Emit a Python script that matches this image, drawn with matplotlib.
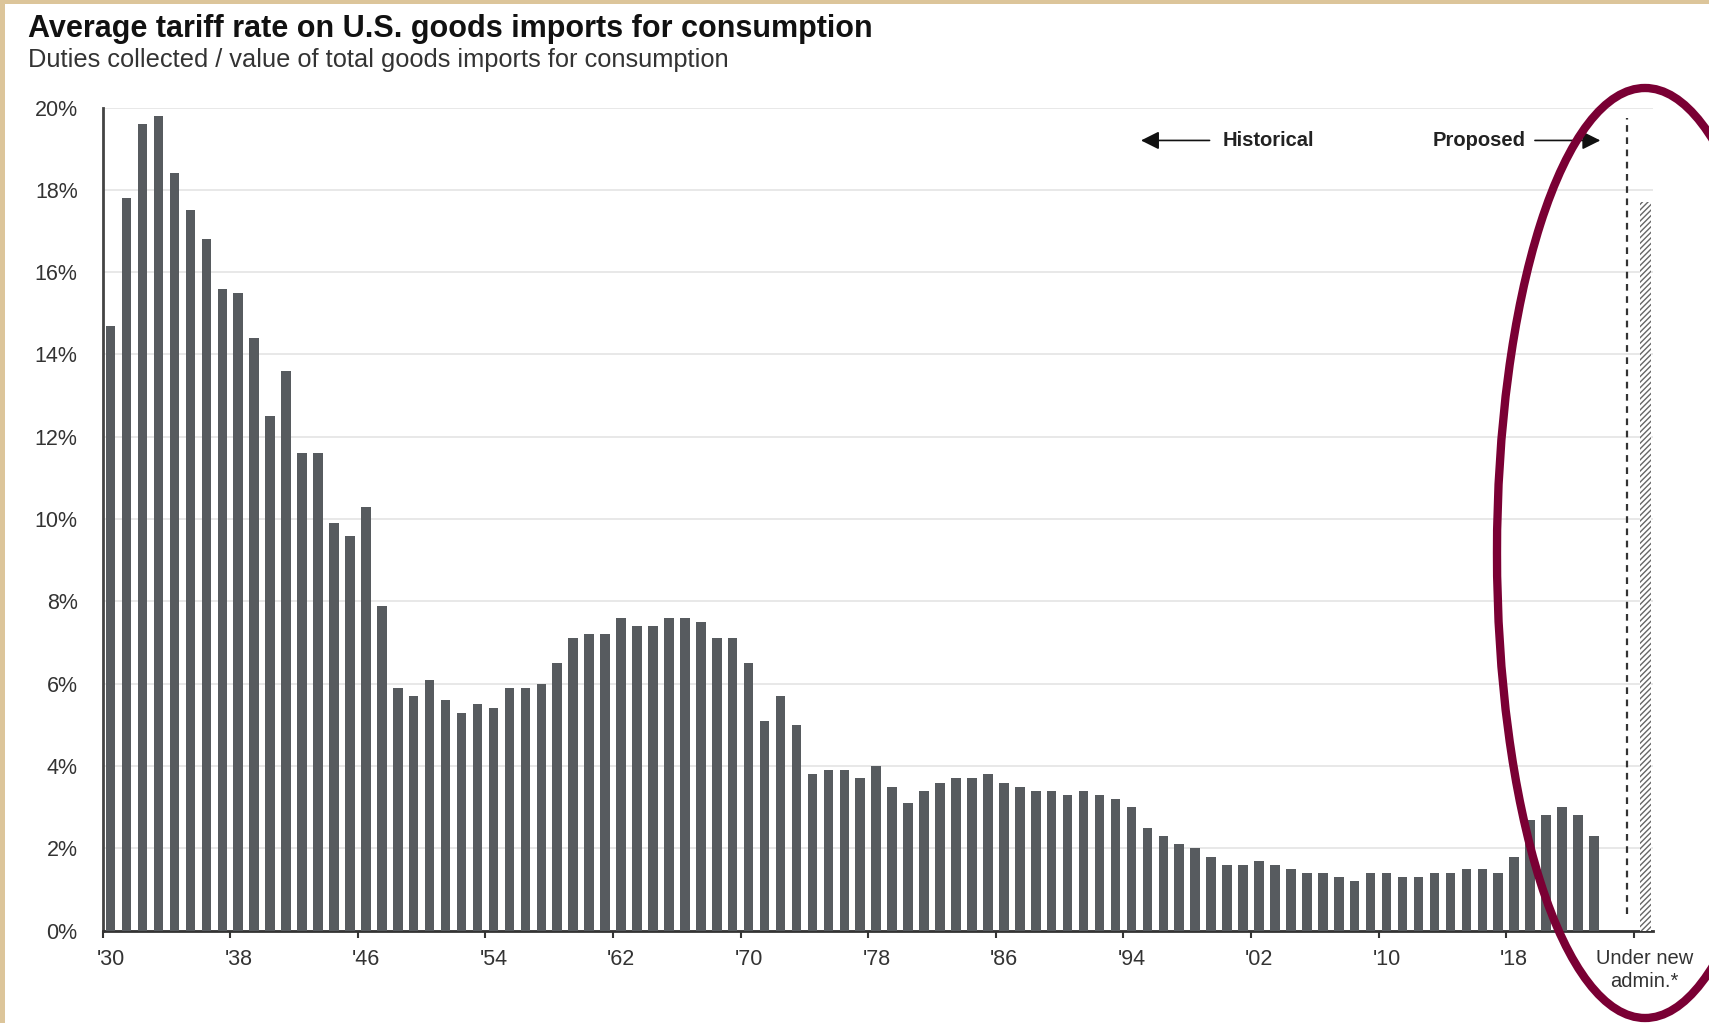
import numpy as np
import matplotlib
matplotlib.use("Agg")
import matplotlib.pyplot as plt
import matplotlib.patches as mpatches
import matplotlib.transforms as mtransforms

plt.rcParams['font.family'] = ['Liberation Sans', 'DejaVu Sans']

# data: average tariff rate (%), 1930-2023
years = list(range(1930, 2024))
rates = [
    14.7, 17.8, 19.6, 19.8, 18.4, 17.5, 16.8, 15.6, 15.5, 14.4,
    12.5, 13.6, 11.6, 11.6, 9.9, 9.6, 10.3, 7.9, 5.9, 5.7,
    6.1, 5.6, 5.3, 5.5, 5.4, 5.9, 5.9, 6.0, 6.5, 7.1,
    7.2, 7.2, 7.6, 7.4, 7.4, 7.6, 7.6, 7.5, 7.1, 7.1,
    6.5, 5.1, 5.7, 5.0, 3.8, 3.9, 3.9, 3.7, 4.0, 3.5,
    3.1, 3.4, 3.6, 3.7, 3.7, 3.8, 3.6, 3.5, 3.4, 3.4,
    3.3, 3.4, 3.3, 3.2, 3.0, 2.5, 2.3, 2.1, 2.0, 1.8,
    1.6, 1.6, 1.7, 1.6, 1.5, 1.4, 1.4, 1.3, 1.2, 1.4,
    1.4, 1.3, 1.3, 1.4, 1.4, 1.5, 1.5, 1.4, 1.8, 2.7,
    2.8, 3.0, 2.8, 2.3,
]
proposed_pos = 2026.25
proposed_tick = 2025.5
proposed_rate = 17.7
divider_pos = 2025.05

tick_years = [1930, 1938, 1946, 1954, 1962, 1970, 1978, 1986, 1994, 2002, 2010, 2018]
tick_labels = ["'30", "'38", "'46", "'54", "'62", "'70", "'78", "'86", "'94", "'02", "'10", "'18"]
proposed_label = "Under new\nadmin.*"

bar_color = '#575b5f'
fig = plt.figure(figsize=(17.09, 10.23), dpi=100, facecolor='#dcc59a')
# white card on the parchment background
card = mpatches.Rectangle((5 / 1709, 0), 1, 1 - 4 / 1023,
                          transform=fig.transFigure, facecolor='white',
                          edgecolor='none', zorder=0)
fig.patches.append(card)

ax = fig.add_axes([0.0601, 0.0902, 0.9071, 0.8047])
ax.set_zorder(1)
ax.set_facecolor('white')

ax.bar(years, rates, width=0.6, color=bar_color, zorder=3)
ax.bar([proposed_pos], [proposed_rate], width=0.7, color='white',
       edgecolor='#666666', hatch='//////', linewidth=0, zorder=3)
ax.vlines(divider_pos, 0.4, 19.75, colors='#333333', linestyles=(0, (3, 2.5)),
          linewidth=1.6, zorder=4)

ax.set_xlim(1929.5, 2026.7)
ax.set_ylim(0, 20)
ax.set_yticks(np.arange(0, 21, 2))
ax.set_yticklabels([f'{v}%' for v in range(0, 21, 2)], fontsize=15.5, color='#333333')
ax.tick_params(axis='y', length=0, pad=18)
ax.grid(axis='y', color='#e6e6e6', linewidth=1.3, zorder=0)
ax.set_axisbelow(True)

xt = [y - 0.5 for y in tick_years] + [proposed_tick]
ax.set_xticks(xt)
ax.set_xticklabels(tick_labels + [proposed_label], fontsize=15.5, color='#333333')
ax.tick_params(axis='x', length=5, width=1.5, color='#333333', pad=8)
for lab in ax.get_xticklabels()[:-1]:
    lab.set_ha('left')
    lab.set_transform(lab.get_transform() + mtransforms.ScaledTranslation(-6 / 100, 0, fig.dpi_scale_trans))
last = ax.get_xticklabels()[-1]
last.set_fontsize(14.5)
last.set_linespacing(1.3)
last.set_transform(last.get_transform() + mtransforms.ScaledTranslation(11 / 100, 0, fig.dpi_scale_trans))

for s in ['top', 'right']:
    ax.spines[s].set_visible(False)
ax.spines['left'].set_color('#444444')
ax.spines['left'].set_linewidth(2)
ax.spines['bottom'].set_color('#333333')
ax.spines['bottom'].set_linewidth(2)

# Historical / Proposed annotations
ax.annotate('', xy=(1994.6, 19.2), xytext=(1998.9, 19.2),
            arrowprops=dict(arrowstyle='-|>,head_length=0.5,head_width=0.25',
                            color='#111111', lw=1.2,
                            mutation_scale=22, shrinkA=0, shrinkB=0))
ax.text(1999.7, 19.2, 'Historical', fontsize=14.5, fontweight='bold',
        color='#222222', va='center', ha='left')
ax.text(2018.7, 19.2, 'Proposed', fontsize=14.5, fontweight='bold',
        color='#222222', va='center', ha='right')
ax.annotate('', xy=(2023.4, 19.2), xytext=(2019.3, 19.2),
            arrowprops=dict(arrowstyle='-|>,head_length=0.5,head_width=0.25',
                            color='#111111', lw=1.2,
                            mutation_scale=22, shrinkA=0, shrinkB=0))

# titles
fig.text(28 / 1709, 1 - 29 / 1023, 'Average tariff rate on U.S. goods imports for consumption',
         fontsize=22, fontweight='bold', color='#111111', va='center', ha='left')
fig.text(28 / 1709, 1 - 60 / 1023, 'Duties collected / value of total goods imports for consumption',
         fontsize=18.3, color='#333333', va='center', ha='left')

# highlight ellipse (partly runs off the right and bottom edges)
ell = mpatches.Ellipse((1645 / 1709, 1 - 553 / 1023), 296 / 1709, 930 / 1023,
                       transform=fig.transFigure, fill=False,
                       edgecolor='#7a0034', linewidth=6, zorder=10)
fig.patches.append(ell)

fig.savefig('out.png', dpi=100, facecolor=fig.get_facecolor())
